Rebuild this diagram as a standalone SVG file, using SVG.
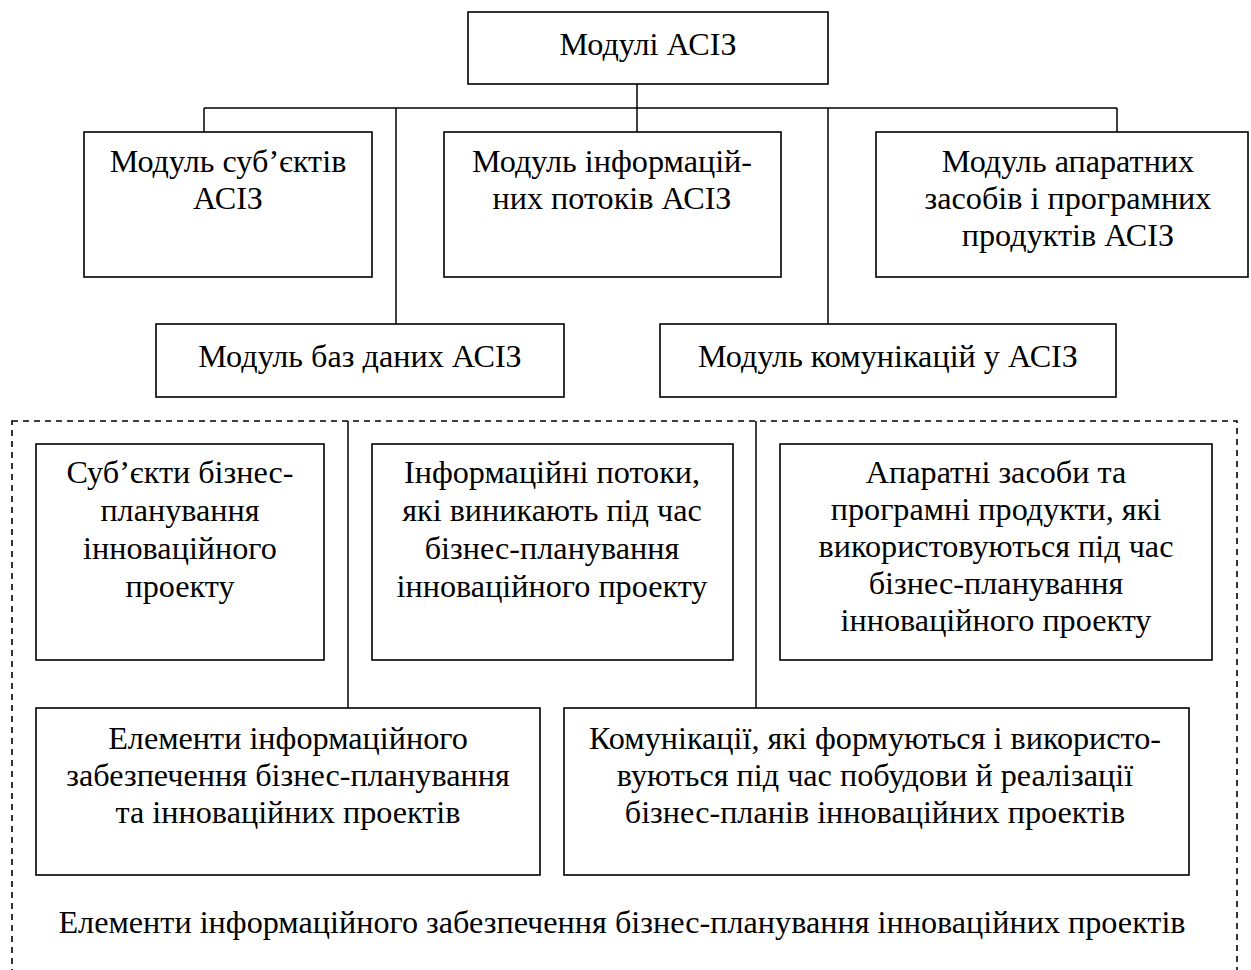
<svg xmlns="http://www.w3.org/2000/svg" width="1251" height="970" viewBox="0 0 1251 970">
<style>
.box{fill:#fff;stroke:#000;stroke-width:1.6}
.ln{fill:none;stroke:#000;stroke-width:1.5}
.dash{fill:none;stroke:#000;stroke-width:1.6;stroke-dasharray:6 5}
text{font-family:"Liberation Serif","Times New Roman",serif;font-size:32.2px;fill:#000;text-anchor:middle}
</style>
<rect width="1251" height="970" fill="#fff"/>
<rect class="dash" x="12" y="421" width="1225" height="570"/>
<g id="connectors">
<path class="ln" d="M637 84V132M204 108H1117M204 108V132M1117 108V132M396 108V324M828 108V324M348 421V708M756 421V708"/>
</g>
<g id="n0"><rect class="box" x="468" y="12" width="360" height="72"/><text x="648" y="55">Модулі АСІЗ</text></g>
<g id="n1"><rect class="box" x="84" y="132" width="288" height="145"/><text x="228" y="172">Модуль суб’єктів</text><text x="228" y="209">АСІЗ</text></g>
<g id="n2"><rect class="box" x="444" y="132" width="337" height="145"/><text x="612" y="172">Модуль інформацій-</text><text x="612" y="209">них потоків АСІЗ</text></g>
<g id="n3"><rect class="box" x="876" y="132" width="372" height="145"/><text x="1068" y="172">Модуль апаратних</text><text x="1068" y="209">засобів і програмних</text><text x="1068" y="246">продуктів АСІЗ</text></g>
<g id="n4"><rect class="box" x="156" y="324" width="408" height="73"/><text x="360" y="367">Модуль баз даних АСІЗ</text></g>
<g id="n5"><rect class="box" x="660" y="324" width="456" height="73"/><text x="888" y="367">Модуль комунікацій у АСІЗ</text></g>
<g id="n6"><rect class="box" x="36" y="444" width="288" height="216"/><text x="180" y="483">Суб’єкти бізнес-</text><text x="180" y="521">планування</text><text x="180" y="559">інноваційного</text><text x="180" y="597">проекту</text></g>
<g id="n7"><rect class="box" x="372" y="444" width="361" height="216"/><text x="552" y="483">Інформаційні потоки,</text><text x="552" y="521">які виникають під час</text><text x="552" y="559">бізнес-планування</text><text x="552" y="597">інноваційного проекту</text></g>
<g id="n8"><rect class="box" x="780" y="444" width="432" height="216"/><text x="996" y="483">Апаратні засоби та</text><text x="996" y="520">програмні продукти, які</text><text x="996" y="557">використовуються під час</text><text x="996" y="594">бізнес-планування</text><text x="996" y="631">інноваційного проекту</text></g>
<g id="n9"><rect class="box" x="36" y="708" width="504" height="167"/><text x="288" y="749">Елементи інформаційного</text><text x="288" y="786">забезпечення бізнес-планування</text><text x="288" y="823">та інноваційних проектів</text></g>
<g id="n10"><rect class="box" x="564" y="708" width="625" height="167"/><text x="875" y="749">Комунікації, які формуються і використо-</text><text x="875" y="786">вуються під час побудови й реалізації</text><text x="875" y="823">бізнес-планів інноваційних проектів</text></g>
<g id="n11"><text x="622" y="933">Елементи інформаційного забезпечення бізнес-планування інноваційних проектів</text></g>
</svg>
